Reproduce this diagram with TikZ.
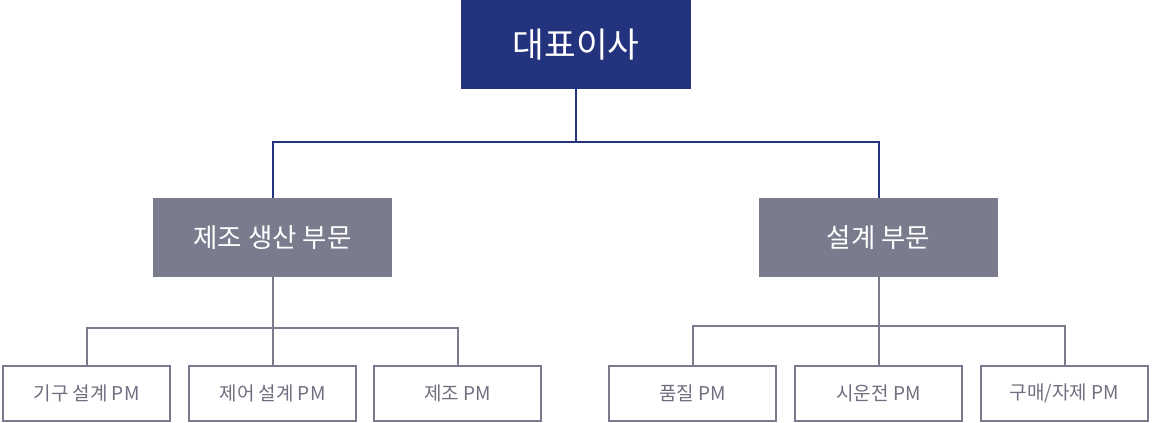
\documentclass[tikz,border=0pt]{standalone}
\usepackage{fontspec}
\setmainfont{Noto Sans CJK KR}
\definecolor{navy}{HTML}{24337E}
\definecolor{slate}{HTML}{7A7C8E}
\definecolor{txtgray}{HTML}{6E7080}
\begin{document}
\begin{tikzpicture}[x=1pt,y=-1pt,
  ceo/.style={fill=navy,text=white,minimum width=230pt,minimum height=89pt,inner sep=0pt,font=\fontsize{34.5}{40}\selectfont},
  dept/.style={fill=slate,text=white,minimum width=239pt,minimum height=79pt,inner sep=0pt,font=\fontsize{26.5}{31}\selectfont},
  pm/.style={draw=slate,line width=1.6pt,fill=white,text=txtgray,minimum width=167.5pt,minimum height=55.5pt,inner sep=0pt,font=\fontsize{19}{22}\selectfont},
  navyline/.style={draw=navy,line width=2pt},
  grayline/.style={draw=slate,line width=2pt}]
\useasboundingbox (0,0) rectangle (1152,423);
\node[ceo] (ceo) at (576,44.5) {대표이사};
\node[dept] (prod) at (272.5,237.5) {제조 생산 부문};
\node[dept] (des) at (878.5,237.5) {설계 부문};
\node[pm] (p1) at (86.5,393.5) {기구 설계 PM};
\node[pm] (p2) at (272.5,393.5) {제어 설계 PM};
\node[pm] (p3) at (457.5,393.5) {제조 PM};
\node[pm] (p4) at (692.5,393.5) {품질 PM};
\node[pm] (p5) at (878.5,393.5) {시운전 PM};
\node[pm] (p6) at (1064.5,393.5) {구매/자제 PM};
\coordinate (j0) at (576,142);
\coordinate (j1) at (272.5,328);
\coordinate (j2) at (878.5,326);
\draw[navyline] (ceo.south) -- (j0) -| (prod.north);
\draw[navyline] (j0) -| (des.north);
\draw[grayline] (prod.south) -- (j1);
\draw[grayline] (j1) -| (p1.north);
\draw[grayline] (j1) -- (p2.north);
\draw[grayline] (j1) -| (p3.north);
\draw[grayline] (des.south) -- (j2);
\draw[grayline] (j2) -| (p4.north);
\draw[grayline] (j2) -- (p5.north);
\draw[grayline] (j2) -| (p6.north);
\end{tikzpicture}
\end{document}
